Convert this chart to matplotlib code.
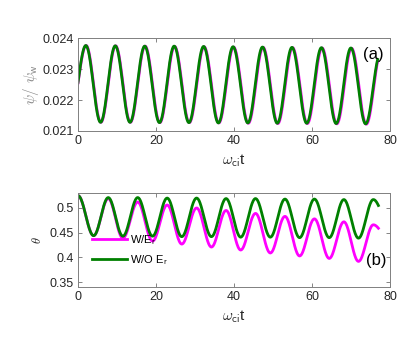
import numpy as np
import matplotlib
matplotlib.use("Agg")
import matplotlib.pyplot as plt

plt.rcParams['font.family'] = ['Liberation Sans', 'DejaVu Sans']
plt.rcParams['mathtext.fontset'] = 'cm'

# ---------------- data (extrema) ----------------
HALF = 3.775  # half period of the oscillation (omega_ci t units)

# panel (a): psi/psi_w  (start, alternating peaks/troughs, end)
psi_green_t = [0.0, 2.0, 5.78, 9.55, 13.33, 17.1, 20.88, 24.65, 28.43, 32.2, 35.98,
               39.75, 43.53, 47.3, 51.08, 54.85, 58.63, 62.4, 66.18, 69.95, 73.73, 76.8]
psi_green_v = [0.02257, 0.02376, 0.02128, 0.02375, 0.02128, 0.02374, 0.02127, 0.02374, 0.02127,
               0.02373, 0.02126, 0.02372, 0.02126, 0.02371, 0.02125, 0.02370, 0.02125, 0.02369,
               0.02124, 0.02368, 0.02123, 0.02331]
psi_mag_t = [0.0, 2.08, 5.86, 9.64, 13.42, 17.2, 20.98, 24.76, 28.54, 32.32, 36.1,
             39.88, 43.66, 47.44, 51.22, 55.0, 58.78, 62.56, 66.34, 70.12, 73.9, 76.8]
psi_mag_v = [0.02255, 0.02376, 0.02128, 0.02375, 0.02128, 0.02374, 0.02127, 0.02373, 0.02127,
             0.02372, 0.02126, 0.02371, 0.02125, 0.02370, 0.02124, 0.02369, 0.02124, 0.02368,
             0.02123, 0.02367, 0.02122, 0.02325]

# panel (b): theta
th_green_t = [0.0, 4.0, 7.75, 11.5, 15.3, 19.1, 22.85, 26.6, 30.4, 34.2, 37.95,
              41.7, 45.5, 49.3, 53.05, 56.8, 60.6, 64.4, 68.15, 71.9, 75.7, 77.0]
th_green_v = [0.525, 0.444, 0.521, 0.443, 0.521, 0.443, 0.520, 0.442, 0.520, 0.442, 0.519,
              0.441, 0.519, 0.441, 0.518, 0.440, 0.518, 0.440, 0.517, 0.439, 0.517, 0.505]
th_mag_t = [0.0, 4.0, 7.75, 11.5, 15.3, 19.1, 22.85, 26.6, 30.4, 34.2, 37.95,
            41.7, 45.5, 49.3, 53.05, 56.8, 60.6, 64.4, 68.15, 71.9, 75.7, 77.0]
th_mag_v = [0.525, 0.444, 0.519, 0.439, 0.512, 0.433, 0.506, 0.427, 0.500, 0.421, 0.495,
            0.415, 0.489, 0.409, 0.483, 0.403, 0.478, 0.398, 0.472, 0.392, 0.466, 0.459]

x_ticks = [0, 20, 40, 60, 80]
a_yticks = [0.021, 0.022, 0.023, 0.024]
a_yticklabels = ['0.021', '0.022', '0.023', '0.024']
b_yticks = [0.35, 0.4, 0.45, 0.5]
b_yticklabels = ['0.35', '0.4', '0.45', '0.5']
legend_labels = [r'W/E$_{\mathsf{r}}$', r'W/O E$_{\mathsf{r}}$']

GREEN = '#008000'
MAGENTA = '#ff00ff'


def smooth(ts, vs, half=HALF, n=40):
    """Draw a smooth wave through extrema; first/last points may be partial."""
    xs, ys = [], []
    m = len(ts)
    for i in range(m - 1):
        t0, t1 = ts[i], ts[i + 1]
        v0, v1 = vs[i], vs[i + 1]
        u = np.linspace(0, 1, n)
        if i == 0:
            f = min((t1 - t0) / half, 1.0)
            uu = 1 - u
            shape = (1 - np.cos(np.pi * f * uu)) / (1 - np.cos(np.pi * f))
            y = v1 + (v0 - v1) * shape
        elif i == m - 2:
            f = min((t1 - t0) / half, 1.0)
            shape = (1 - np.cos(np.pi * f * u)) / (1 - np.cos(np.pi * f))
            y = v0 + (v1 - v0) * shape
        else:
            y = v0 + (v1 - v0) * (1 - np.cos(np.pi * u)) / 2
        xs.append(t0 + (t1 - t0) * u)
        ys.append(y)
    return np.concatenate(xs), np.concatenate(ys)


fig = plt.figure(figsize=(4.15, 3.48), dpi=100)
ax1 = fig.add_axes([0.188, 0.6236, 0.752, 0.267])
ax2 = fig.add_axes([0.188, 0.175, 0.752, 0.270])

LW = 2.0
x, y = smooth(psi_mag_t, psi_mag_v)
ax1.plot(x, y, color=MAGENTA, lw=LW)
x, y = smooth(psi_green_t, psi_green_v)
ax1.plot(x, y, color=GREEN, lw=LW)

x, y = smooth(th_mag_t, th_mag_v)
ax2.plot(x, y, color=MAGENTA, lw=LW, label=legend_labels[0])
x, y = smooth(th_green_t, th_green_v)
ax2.plot(x, y, color=GREEN, lw=LW, label=legend_labels[1])

for ax in (ax1, ax2):
    ax.set_xlim(0, 80)
    ax.set_xticks(x_ticks)
    ax.tick_params(direction='in', top=True, right=True, length=3, width=0.6,
                   color='#707070', labelsize=9, labelcolor='#262626', pad=3)
    for s in ax.spines.values():
        s.set_color('#808080')
        s.set_linewidth(0.7)
    ax.set_xlabel(r'$\omega_{\mathsf{ci}}$t', fontsize=11, color='#262626', labelpad=4)

ax1.set_ylim(0.021, 0.024)
ax1.set_yticks(a_yticks)
ax1.set_yticklabels(a_yticklabels)
ax1.set_ylabel(r'$\psi/\ \psi_{\mathsf{w}}$', fontsize=11, color='#888888', labelpad=1)
ax1.text(0.945, 0.82, '(a)', transform=ax1.transAxes, fontsize=12, ha='center', va='center')

ax2.set_ylim(0.34, 0.53)
ax2.set_yticks(b_yticks)
ax2.set_yticklabels(b_yticklabels)
ax2.set_ylabel(r'$\theta$', fontsize=9, color='#262626', labelpad=4)
ax2.text(0.955, 0.28, '(b)', transform=ax2.transAxes, fontsize=12, ha='center', va='center')
ax2.legend(loc='lower left', bbox_to_anchor=(0.03, 0.17), frameon=False, fontsize=8,
           handlelength=3.2, handletextpad=0.2, labelspacing=0.5, borderaxespad=0)

fig.savefig('out.png', dpi=100)
